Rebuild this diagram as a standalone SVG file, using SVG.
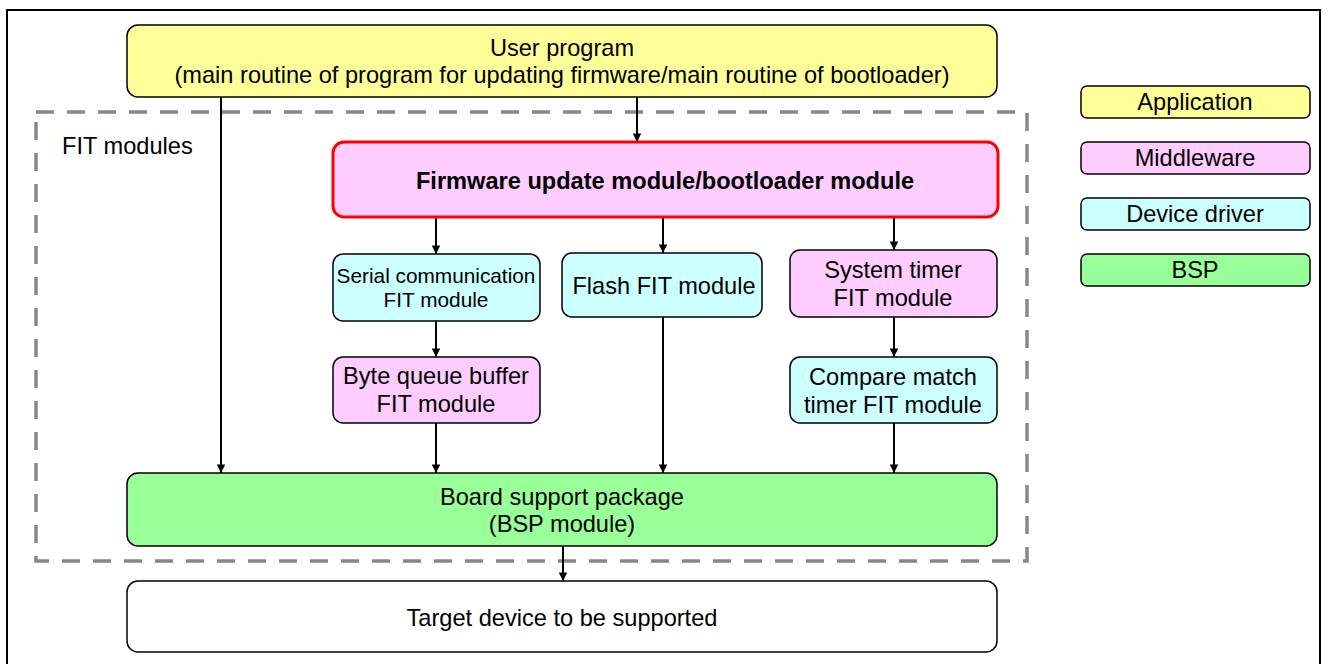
<svg xmlns="http://www.w3.org/2000/svg" width="1328" height="664" viewBox="0 0 1328 664">
<style>
.box{stroke:#000;stroke-width:1.5}
.app{fill:#ffff99}.mid{fill:#ffccff}.drv{fill:#ccffff}.bsp{fill:#99ff99}
text{font-family:"Liberation Sans",Arial,sans-serif;fill:#000;text-anchor:middle}
.t20{font-size:23.6px}.t17{font-size:20.8px}
.c{stroke:#000;stroke-width:2;fill:none;marker-end:url(#ah)}
</style>
<defs>
<marker id="ah" viewBox="0 0 10 10" refX="10" refY="5" markerWidth="4.5" markerHeight="4.2" orient="auto" markerUnits="strokeWidth">
<path d="M0,0 L10,5 L0,10 z" fill="#000"/>
</marker>
</defs>
<rect x="0" y="0" width="1328" height="664" fill="#fff"/>
<rect x="7" y="10" width="1313" height="670" fill="none" stroke="#000" stroke-width="2"/>
<g id="fit-modules">
<rect x="36" y="112" width="991" height="449" fill="none" stroke="#888" stroke-width="3.5" stroke-dasharray="18,13"/>
<text x="62" y="154" style="font-size:23.6px;text-anchor:start">FIT modules</text>
</g>
<g id="connectors">
<line class="c" x1="221" y1="97" x2="221" y2="473"/>
<line class="c" x1="637" y1="97" x2="637" y2="142"/>
<line class="c" x1="436" y1="218" x2="436" y2="254"/>
<line class="c" x1="663" y1="218" x2="663" y2="253"/>
<line class="c" x1="894" y1="218" x2="894" y2="250"/>
<line class="c" x1="436" y1="321" x2="436" y2="357"/>
<line class="c" x1="436" y1="423" x2="436" y2="473"/>
<line class="c" x1="663" y1="317" x2="663" y2="473"/>
<line class="c" x1="894" y1="317" x2="894" y2="357"/>
<line class="c" x1="894" y1="423" x2="894" y2="473"/>
<line class="c" x1="563" y1="546" x2="563" y2="581"/>
</g>
<g id="user-program">
<rect class="box app" x="127" y="25" width="870" height="72" rx="11"/>
<text class="t20" x="562" y="56">User program</text>
<text class="t20" x="562" y="83">(main routine of program for updating firmware/main routine of bootloader)</text>
</g>
<g id="firmware-update">
<rect class="mid" x="333" y="142" width="665" height="75" rx="11" stroke="#ff0000" stroke-width="3"/>
<text x="665" y="189" style="font-size:23.6px;font-weight:bold">Firmware update module/bootloader module</text>
</g>
<g id="serial">
<rect class="box drv" x="333" y="254" width="207" height="67" rx="10"/>
<text class="t17" x="436" y="283">Serial communication</text>
<text class="t17" x="436" y="307">FIT module</text>
</g>
<g id="flash">
<rect class="box drv" x="562" y="253" width="200" height="64" rx="10"/>
<text class="t20" x="664" y="294">Flash FIT module</text>
</g>
<g id="system-timer">
<rect class="box mid" x="790" y="250" width="207" height="67" rx="10"/>
<text class="t20" x="893" y="278">System timer</text>
<text class="t20" x="893" y="306">FIT module</text>
</g>
<g id="byte-queue">
<rect class="box mid" x="333" y="357" width="207" height="66" rx="10"/>
<text class="t20" x="436" y="384">Byte queue buffer</text>
<text class="t20" x="436" y="412">FIT module</text>
</g>
<g id="compare-match">
<rect class="box drv" x="790" y="357" width="207" height="66" rx="10"/>
<text class="t20" x="893" y="385">Compare match</text>
<text class="t20" x="893" y="413">timer FIT module</text>
</g>
<g id="bsp">
<rect class="box bsp" x="127" y="473" width="870" height="73" rx="11"/>
<text class="t20" x="562" y="505">Board support package</text>
<text class="t20" x="562" y="532">(BSP module)</text>
</g>
<g id="target">
<rect class="box" x="127" y="581" width="870" height="71" rx="11" fill="#fff"/>
<text class="t20" x="562" y="626">Target device to be supported</text>
</g>
<g id="legend-application">
<rect class="box app" x="1081" y="86" width="229" height="32" rx="6"/>
<text class="t20" x="1195" y="110">Application</text>
</g>
<g id="legend-middleware">
<rect class="box mid" x="1081" y="142" width="229" height="32" rx="6"/>
<text class="t20" x="1195" y="166">Middleware</text>
</g>
<g id="legend-device-driver">
<rect class="box drv" x="1081" y="198" width="229" height="32" rx="6"/>
<text class="t20" x="1195" y="222">Device driver</text>
</g>
<g id="legend-bsp">
<rect class="box bsp" x="1081" y="254" width="229" height="32" rx="6"/>
<text class="t20" x="1195" y="278">BSP</text>
</g>
</svg>
